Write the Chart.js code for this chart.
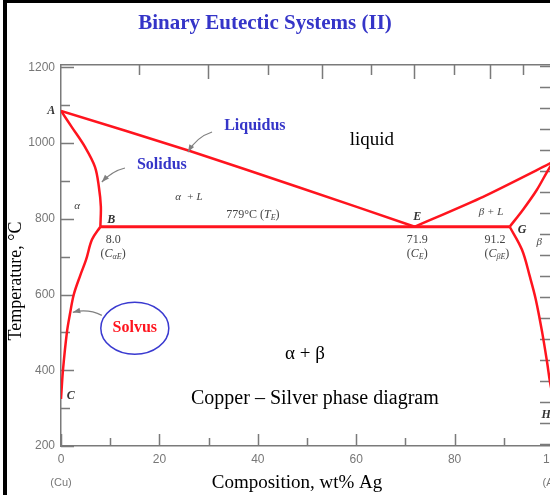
<!DOCTYPE html>
<html>
<head>
<meta charset="utf-8">
<title>Binary Eutectic Systems (II)</title>
<script src="https://cdn.jsdelivr.net/npm/chart.js@4.4.0/dist/chart.umd.min.js"></script>
<style>
    html, body { margin: 0; padding: 0; background: #fff; overflow: hidden; }
    #wrap { position: relative; width: 550px; height: 495px; overflow: hidden; }
    #phaseChart { position: absolute; left: 0; top: 0; }
    #frame {
        position: absolute; left: 3px; top: 0; width: 600px; height: 600px;
        border-left: 4px solid #000; border-top: 3px solid #000;
        box-sizing: border-box; pointer-events: none;
    }
</style>
</head>
<body>
<div id="wrap">
    <canvas id="phaseChart" width="600" height="495"></canvas>
    <div id="frame"></div>
</div>
<script>
// Cu-Ag phase diagram, composition in wt% Ag, temperature in degC
const liquidusCuWt = [0, 26.2, 48.6, 71.9];
const liquidusCuT  = [1085, 979, 882, 779];

const liquidusAgWt = [71.9, 85.8, 100];
const liquidusAgT  = [779, 858, 950];

const solidusAlphaWt = [0, 2.2, 4.9, 6.9, 7.7, 8.1, 8.0];
const solidusAlphaT  = [1085, 1042, 989, 937, 884, 832, 779];

const solvusAlphaWt = [8.0, 6.3, 5.1, 3.9, 2.6, 1.8, 1.2, 0.4, 0];
const solvusAlphaT  = [779, 745, 692, 650, 600, 547, 500, 400, 324];

const solidusBetaWt = [91.2, 93.9, 96.7, 98.8, 100];
const solidusBetaT  = [779, 824, 876, 924, 950];

const solvusBetaWt = [91.2, 93.7, 95.3, 96.5, 97.8, 98.8, 99.4, 100];
const solvusBetaT  = [779, 718, 647, 587, 500, 421, 368, 330];

const eutecticWt = [8.0, 91.2];
const eutecticT  = [779, 779];

// axis ticks
const xTicks = [0, 10, 20, 30, 40, 50, 60, 70, 80, 90, 100];
const xTickLabels = ['0', '', '20', '', '40', '', '60', '', '80', '', '100'];
const yTicks = [200, 300, 400, 500, 600, 700, 800, 900, 1000, 1100, 1200];
const yTickLabels = ['200', '', '400', '', '600', '', '800', '', '1000', '', '1200'];
const atomicTicks = [10, 20, 30, 40, 50, 60, 70, 80, 90];   // top axis, at% Ag
const fahrenheitTicks = [400, 500, 600, 700, 800, 900, 1000, 1100, 1200, 1300,
                         1400, 1500, 1600, 1700, 1800, 1900, 2000, 2100, 2200];

const serif = '"Liberation Serif", "Times New Roman", serif';
const sans = '"Liberation Sans", Arial, sans-serif';
const red = 'rgb(255, 20, 30)';
const blue = '#3535c8';
const axisGray = '#7a7a7a';

function pts(xs, ys) {
    return xs.map((x, i) => ({ x: x, y: ys[i] }));
}

// at% Ag -> wt% Ag (for placing the top axis ticks)
function atToWt(a) {
    return 100 * a * 107.87 / (a * 107.87 + (100 - a) * 63.55);
}

function curve(label, xs, ys, tension, width) {
    return {
        label: label,
        data: pts(xs, ys),
        showLine: true,
        borderColor: red,
        borderWidth: width || 2.5,
        pointRadius: 0,
        tension: tension,
        fill: false
    };
}

// text runs: [text, size, style, dy]
const notes = [
    { wt: -2.0, t: 1084, color: '#333', runs: [['A', 12, 'italic bold']] },
    { wt: 39.4, t: 1045, color: blue, runs: [['Liquidus', 16, 'bold']] },
    { wt: 20.5, t: 942, color: blue, runs: [['Solidus', 16, 'bold']] },
    { wt: 63.2, t: 1008, color: '#000', runs: [['liquid', 19, '']] },
    { wt: 26.0, t: 858, color: '#444', runs: [['\u03b1  + ', 11, 'italic'], ['L', 11, 'italic']] },
    { wt: 3.3, t: 834, color: '#444', runs: [['\u03b1', 11, 'italic']] },
    { wt: 39.0, t: 811, color: '#444', runs: [['779\u00b0C (', 12, ''], ['T', 12, 'italic'], ['E', 8, 'italic', 3], [')', 12, '']] },
    { wt: 10.2, t: 797, color: '#333', runs: [['B', 12, 'italic bold']] },
    { wt: 10.6, t: 745, color: '#444', runs: [['8.0', 12, '']] },
    { wt: 10.6, t: 708, color: '#444', runs: [['(', 12, ''], ['C', 12, 'italic'], ['\u03b1E', 8, 'italic', 3], [')', 12, '']] },
    { wt: 72.4, t: 805, color: '#333', runs: [['E', 12, 'italic bold']] },
    { wt: 72.4, t: 745, color: '#444', runs: [['71.9', 12, '']] },
    { wt: 72.4, t: 708, color: '#444', runs: [['(', 12, ''], ['C', 12, 'italic'], ['E', 8, 'italic', 3], [')', 12, '']] },
    { wt: 87.4, t: 818, color: '#444', runs: [['\u03b2 + ', 11, 'italic'], ['L', 11, 'italic']] },
    { wt: 88.2, t: 745, color: '#444', runs: [['91.2', 12, '']] },
    { wt: 88.6, t: 708, color: '#444', runs: [['(', 12, ''], ['C', 12, 'italic'], ['\u03b2E', 8, 'italic', 3], [')', 12, '']] },
    { wt: 93.7, t: 771, color: '#333', runs: [['G', 12, 'italic bold']] },
    { wt: 97.2, t: 739, color: '#444', runs: [['\u03b2', 11, 'italic']] },
    { wt: 2.0, t: 332, color: '#333', runs: [['C', 12, 'italic bold']] },
    { wt: 98.6, t: 282, color: '#333', runs: [['H', 12, 'italic bold']] },
    { wt: 49.6, t: 442, color: '#000', runs: [['\u03b1 + \u03b2', 19, '']] },
    { wt: 51.6, t: 326, color: '#000', runs: [['Copper \u2013 Silver phase diagram', 20, '']] },
    { wt: 15.0, t: 511, color: red, runs: [['Solvus', 16, 'bold']] }
];

// pointer arrows: tail, control, head (wt%, degC)
const pointers = [
    [[30.7, 1029], [27.6, 1016], [25.8, 976]],
    [[13.0, 934], [10.4, 926], [8.3, 897]],
    [[8.3, 545], [5.5, 563], [2.4, 553]]
];

function drawRuns(ctx, x, y, runs, color) {
    let total = 0;
    runs.forEach(r => {
        ctx.font = (r[2] ? r[2] + ' ' : '') + r[1] + 'px ' + serif;
        total += ctx.measureText(r[0]).width;
    });
    let cx = x - total / 2;
    ctx.fillStyle = color;
    ctx.textAlign = 'left';
    ctx.textBaseline = 'middle';
    runs.forEach(r => {
        ctx.font = (r[2] ? r[2] + ' ' : '') + r[1] + 'px ' + serif;
        ctx.fillText(r[0], cx, y + (r[3] || 0));
        cx += ctx.measureText(r[0]).width;
    });
}

function drawPointer(ctx, p0, p1, p2) {
    ctx.beginPath();
    ctx.moveTo(p0.x, p0.y);
    ctx.quadraticCurveTo(p1.x, p1.y, p2.x, p2.y);
    ctx.stroke();
    const ang = Math.atan2(p2.y - p1.y, p2.x - p1.x);
    ctx.beginPath();
    ctx.moveTo(p2.x, p2.y);
    ctx.lineTo(p2.x - 8 * Math.cos(ang - 0.35), p2.y - 8 * Math.sin(ang - 0.35));
    ctx.lineTo(p2.x - 8 * Math.cos(ang + 0.35), p2.y - 8 * Math.sin(ang + 0.35));
    ctx.closePath();
    ctx.fill();
}

// ticks pointing into the plot area
const innerTicks = {
    id: 'innerTicks',
    beforeDatasetsDraw(chart) {
        const { ctx, chartArea: a, scales } = chart;
        ctx.save();
        ctx.strokeStyle = axisGray;
        ctx.lineWidth = 1.5;
        ctx.beginPath();
        yTicks.forEach(v => {
            const y = Math.round(scales.y.getPixelForValue(v)) + 0.5;
            ctx.moveTo(a.left, y);
            ctx.lineTo(a.left + (v % 200 === 0 ? 13 : 9), y);
        });
        xTicks.forEach(v => {
            const x = Math.round(scales.x.getPixelForValue(v)) + 0.5;
            ctx.moveTo(x, a.bottom);
            ctx.lineTo(x, a.bottom - (v % 20 === 0 ? 12 : 8));
        });
        atomicTicks.forEach(v => {
            const x = Math.round(scales.x2.getPixelForValue(atToWt(v))) + 0.5;
            ctx.moveTo(x, a.top);
            ctx.lineTo(x, a.top + (v % 20 === 0 ? 14 : 10));
        });
        fahrenheitTicks.forEach(v => {
            const y = Math.round(scales.y2.getPixelForValue(v)) + 0.5;
            ctx.moveTo(a.right, y);
            ctx.lineTo(a.right - 13, y);
        });
        ctx.stroke();
        ctx.restore();
    }
};

const annotations = {
    id: 'annotations',
    afterDatasetsDraw(chart) {
        const { ctx, scales } = chart;
        const P = (wt, t) => ({ x: scales.x.getPixelForValue(wt), y: scales.y.getPixelForValue(t) });
        ctx.save();

        // ellipse round "Solvus"
        const c = P(15.0, 511);
        ctx.strokeStyle = '#3a3ad0';
        ctx.lineWidth = 1.5;
        ctx.beginPath();
        ctx.ellipse(c.x, c.y, 34, 26, 0, 0, Math.PI * 2);
        ctx.stroke();

        ctx.strokeStyle = '#808080';
        ctx.fillStyle = '#808080';
        ctx.lineWidth = 1.2;
        pointers.forEach(p => drawPointer(ctx, P(p[0][0], p[0][1]), P(p[1][0], p[1][1]), P(p[2][0], p[2][1])));

        notes.forEach(n => {
            const p = P(n.wt, n.t);
            drawRuns(ctx, p.x, p.y, n.runs, n.color);
        });

        // titles
        ctx.textAlign = 'center';
        ctx.textBaseline = 'middle';
        ctx.fillStyle = blue;
        ctx.font = 'bold 21px ' + serif;
        ctx.fillText('Binary Eutectic Systems (II)', 265, 24);

        ctx.fillStyle = '#000';
        ctx.font = '19px ' + serif;
        ctx.fillText('Composition, wt% Ag', 297, 483);

        ctx.fillStyle = '#777';
        ctx.font = '11px ' + sans;
        ctx.fillText('(Cu)', 61, 483);
        ctx.fillText('(Ag)', 553, 483);

        ctx.translate(16, 281);
        ctx.rotate(-Math.PI / 2);
        ctx.fillStyle = '#000';
        ctx.font = '18px ' + serif;
        ctx.fillText('Temperature, \u00b0C', 0, 0);
        ctx.restore();
    }
};

const ctx = document.getElementById('phaseChart').getContext('2d');
const phaseChart = new Chart(ctx, {
    type: 'scatter',
    data: {
        datasets: [
            curve('Liquidus (Cu side)', liquidusCuWt, liquidusCuT, 0.2),
            curve('Liquidus (Ag side)', liquidusAgWt, liquidusAgT, 0.2),
            curve('Solidus alpha', solidusAlphaWt, solidusAlphaT, 0.35),
            curve('Solvus alpha', solvusAlphaWt, solvusAlphaT, 0.35),
            curve('Solidus beta', solidusBetaWt, solidusBetaT, 0.3),
            curve('Solvus beta', solvusBetaWt, solvusBetaT, 0.35),
            curve('Eutectic isotherm', eutecticWt, eutecticT, 0, 3)
        ]
    },
    options: {
        responsive: false,
        animation: false,
        events: [],
        layout: { padding: { top: 65, right: 47, bottom: 0, left: 0 } },
        plugins: {
            legend: { display: false },
            tooltip: { enabled: false }
        },
        scales: {
            x: {
                type: 'linear',
                position: 'bottom',
                min: 0,
                max: 100,
                afterBuildTicks: s => { s.ticks = xTicks.map(v => ({ value: v })); },
                afterFit: s => { s.height = 49; },
                grid: { display: false, drawTicks: false },
                border: { display: true, color: axisGray, width: 1.5 },
                ticks: {
                    autoSkip: false,
                    maxRotation: 0,
                    padding: 6,
                    color: '#777',
                    font: { family: sans, size: 12 },
                    callback: v => xTickLabels[xTicks.indexOf(v)]
                }
            },
            x2: {
                type: 'linear',
                position: 'top',
                min: 0,
                max: 100,
                afterFit: s => { s.height = 0; },
                grid: { display: false, drawTicks: false },
                border: { display: true, color: axisGray, width: 1.5 },
                ticks: { display: false }
            },
            y: {
                type: 'linear',
                position: 'left',
                min: 200,
                max: 1206,
                afterBuildTicks: s => { s.ticks = yTicks.map(v => ({ value: v })); },
                afterFit: s => { s.width = 61; },
                grid: { display: false, drawTicks: false },
                border: { display: true, color: axisGray, width: 1.5 },
                ticks: {
                    autoSkip: false,
                    padding: 6,
                    color: '#777',
                    font: { family: sans, size: 12 },
                    callback: v => yTickLabels[yTicks.indexOf(v)]
                }
            },
            y2: {
                type: 'linear',
                position: 'right',
                min: 200 * 1.8 + 32,
                max: 1206 * 1.8 + 32,
                afterFit: s => { s.width = 0; },
                grid: { display: false, drawTicks: false },
                border: { display: true, color: axisGray, width: 1.5 },
                ticks: { display: false }
            }
        }
    },
    plugins: [innerTicks, annotations]
});
</script>
</body>
</html>
